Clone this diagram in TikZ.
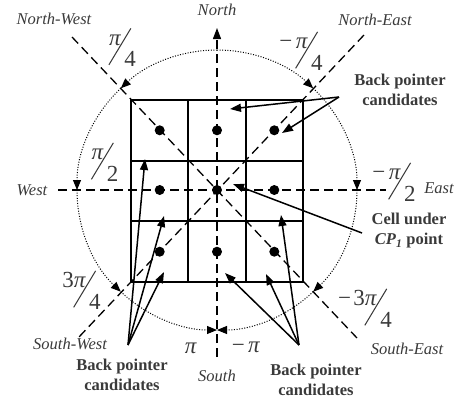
\documentclass[tikz,border=0pt]{standalone}
\usepackage{fontspec}
\setmainfont{Liberation Serif}
\usetikzlibrary{arrows.meta}
\definecolor{gris}{HTML}{3A3A3A}
\newcommand{\angfrac}[2]{\raisebox{0.95em}{#1}\kern-0.55em\raisebox{0.08em}{\rotatebox{59}{\rule{1.85em}{0.045em}}}\kern-0.3em#2}
\newcommand{\pii}{\textit{π}}

\begin{document}
\begin{tikzpicture}[x=1pt, y=-1pt,
		eje/.style={dash pattern=on 9pt off 5pt, line width=1.3pt},
		rejilla/.style={line width=1.7pt},
		flecha/.style={line width=1.5pt, -{Triangle[length=11pt,width=8pt]}},
		arco/.style={line width=1pt, dash pattern=on 1pt off 1.6pt, -{Triangle[length=10pt,width=8pt]}},
		rumbo/.style={text=gris, font=\fontsize{16.5}{20}\selectfont\itshape, inner sep=0pt},
		nota/.style={text=gris, font=\fontsize{16.5}{20}\selectfont\bfseries, align=center, inner sep=0pt},
		angulo/.style={text=gris, font=\fontsize{23}{23}\selectfont, inner sep=0pt}]
	\useasboundingbox (0,0) rectangle (459,400);
	\coordinate (c) at (217,190);
	% rejilla de 3x3 celdas
	\draw[rejilla] (131,100) rectangle (303,282);
	\draw[rejilla] (188,100) -- (188,282) (246,100) -- (246,282)
		(131,161) -- (303,161) (131,221) -- (303,221);
	\foreach \x in {159.7,217,274.3}
		\foreach \y in {130.3,190,251.7}
			\fill (\x,\y) circle[radius=5pt];
	% ejes y diagonales
	\draw[eje, -{Triangle[length=11pt,width=8pt]}] (217,357) -- (217,28);
	\draw[eje] (58,190) -- (386,190);
	\draw[eje] (72,37) -- (357,338);
	\draw[eje] (364,35) -- (79,337);
	% arcos punteados
	\foreach \a/\b in {-90/-46.6, -46.6/0, 0/46.6, 46.6/90,
			-90/-133.4, -133.4/-180, 180/133.4, 133.4/90}
		\draw[arco] (c) ++(\a:140) arc[start angle=\a, end angle=\b, radius=140];
	% rumbos
	\node[rumbo] (norte) at (217,10) {North};
	\node[rumbo] (noroeste) at (54,19) {North-West};
	\node[rumbo] (noreste) at (375,20) {North-East};
	\node[rumbo] (oeste) at (32,190) {West};
	\node[rumbo] (este) at (439,188) {East};
	\node[rumbo] (suroeste) at (70,344) {South-West};
	\node[rumbo] (sur) at (217,376) {South};
	\node[rumbo] (sureste) at (407,349) {South-East};
	% angulos
	\node[angulo] (ang1) at (122.5,47.5) {\angfrac{\pii}{4}};
	\node[angulo] (ang2) at (105,162) {\angfrac{\pii}{2}};
	\node[angulo] (ang3) at (81.5,290) {\angfrac{3\pii}{4}};
	\node[angulo] (ang4) at (191,348) {\pii};
	\node[angulo] (ang5) at (246,347) {−\kern0.15em\pii};
	\node[angulo] (ang6) at (365,308) {\angfrac{−\kern0.1em3\pii}{4}};
	\node[angulo] (ang7) at (394,182) {\angfrac{−\kern0.15em\pii}{2}};
	\node[angulo] (ang8) at (301,51) {\angfrac{−\kern0.15em\pii}{4}};
	% rotulos
	\node[nota] (cand1) at (400,90) {Back pointer\\candidates};
	\node[nota] (celda) at (409,231) {Cell under\\\textit{CP\textsubscript{1}} point};
	\node[nota] (cand2) at (122,375) {Back pointer\\candidates};
	\node[nota] (cand3) at (316,380) {Back pointer\\candidates};
	% flechas
	\coordinate (o1) at (339,97);
	\coordinate (o2) at (362,233);
	\coordinate (o3) at (128,345);
	\coordinate (o4) at (299,345);
	\coordinate (p1) at (230,109);
	\coordinate (p2) at (282,133);
	\coordinate (p3) at (233,184);
	\coordinate (p4) at (145,159);
	\coordinate (p5) at (164,216);
	\coordinate (p6) at (164,272);
	\coordinate (p7) at (225,273);
	\coordinate (p8) at (266,274);
	\coordinate (p9) at (281,215);
	\draw[flecha] (o1) -- (p1);
	\draw[flecha] (o1) -- (p2);
	\draw[flecha] (o2) -- (p3);
	\foreach \p in {p4,p5,p6}
		\draw[flecha] (o3) -- (\p);
	\foreach \p in {p7,p8,p9}
		\draw[flecha] (o4) -- (\p);
\end{tikzpicture}
\end{document}
